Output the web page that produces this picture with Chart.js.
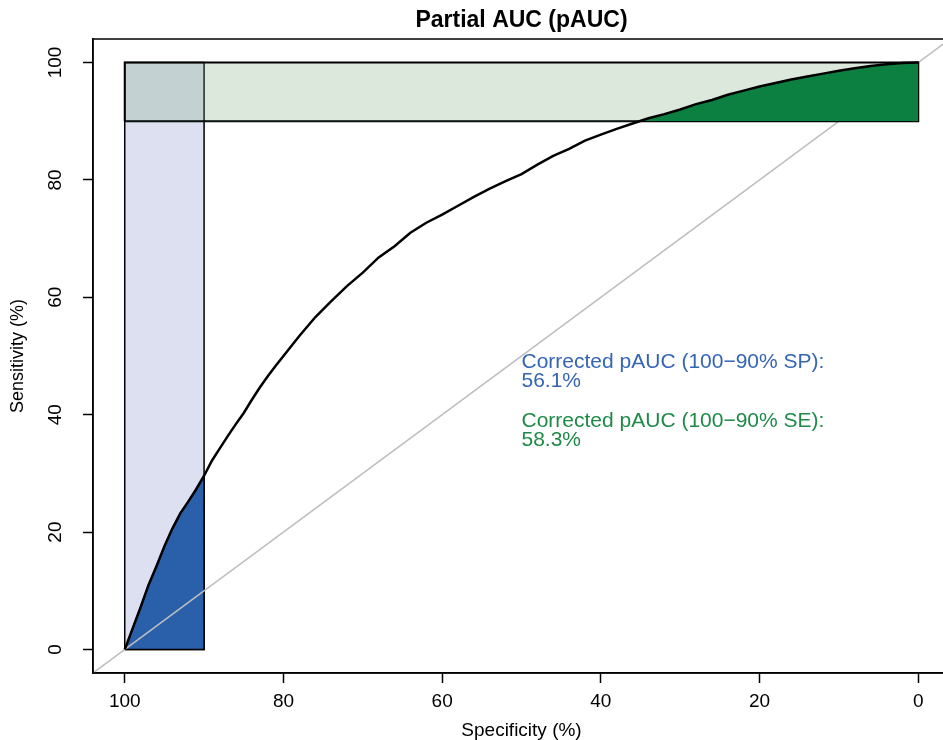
<!DOCTYPE html>
<html>
<head>
<meta charset="utf-8">
<script src="https://cdn.jsdelivr.net/npm/chart.js@4/dist/chart.umd.min.js"></script>
<style>
html,body{margin:0;padding:0;overflow:hidden;background:#fff}
#wrap{width:950px;height:740px}
canvas{display:block}
</style>
</head>
<body>
<div id="wrap"><canvas id="c" width="950" height="740"></canvas></div>
<script>
// ---- data ----
const specificity = [100, 99.5, 99, 98, 97, 96, 95, 94, 93, 92, 91, 90, 89, 88, 87, 86, 85, 84, 83, 82, 81, 80,
  78, 76, 74, 72, 70, 68, 66, 64, 62, 60, 58, 56, 54, 52, 50, 48, 46, 44, 42, 40,
  38, 36, 34, 32, 30, 28, 26, 24, 22, 20, 18, 16, 14, 12, 10, 8, 6, 4, 2, 0];
const sensitivity = [0, 1.8, 3.6, 7.2, 11.0, 14.2, 17.6, 20.6, 23.2, 25.2, 27.3, 29.6, 32.2, 34.3, 36.4, 38.4, 40.3, 42.5, 44.6, 46.5, 48.3, 50.0,
  53.4, 56.6, 59.3, 61.9, 64.2, 66.8, 68.7, 71.0, 72.7, 74.1, 75.6, 77.1, 78.5, 79.8, 81.0, 82.6, 84.1, 85.3, 86.7, 87.7,
  88.7, 89.6, 90.5, 91.2, 92.0, 92.9, 93.6, 94.5, 95.2, 95.9, 96.5, 97.1, 97.6, 98.1, 98.6, 99.0, 99.4, 99.7, 99.9, 100];
const spRange = [100, 90];     // partial AUC specificity range
const seRange = [90, 100];     // partial AUC sensitivity range
const fullRange = [0, 100];
const axisRange = [-4, 104];
const tickValues = [0, 20, 40, 60, 80, 100];
const annotationLabels = ['Corrected pAUC (100\u221290% SP):', 'Corrected pAUC (100\u221290% SE):'];
const pAUCValues = [56.1, 58.3];

// ---- derived point lists ----
const curve = specificity.map((s, i) => ({x: s, y: sensitivity[i]}));
const bluePoly = curve.filter(p => p.x <= spRange[0] && p.x >= spRange[1])
  .concat([{x: spRange[1], y: fullRange[0]}, {x: spRange[0], y: fullRange[0]}]);
const blueRect = [
  {x: spRange[0], y: fullRange[0]}, {x: spRange[0], y: fullRange[1]},
  {x: spRange[1], y: fullRange[1]}, {x: spRange[1], y: fullRange[0]}, {x: spRange[0], y: fullRange[0]}];
const greenRect = [
  {x: fullRange[1], y: seRange[0]}, {x: fullRange[1], y: seRange[1]},
  {x: fullRange[0], y: seRange[1]}, {x: fullRange[0], y: seRange[0]}, {x: fullRange[1], y: seRange[0]}];
const diagonal = [{x: axisRange[1], y: axisRange[0]}, {x: axisRange[0], y: axisRange[1]}];

Chart.defaults.font.family = '"Liberation Sans", Arial, Helvetica, sans-serif';
Chart.defaults.color = '#000';

const base = {showLine: true, pointRadius: 0, pointHoverRadius: 0, tension: 0};

const boxPlugin = {
  id: 'box',
  afterDatasetsDraw(chart) {
    const {ctx, chartArea: a} = chart;
    ctx.save();
    ctx.strokeStyle = '#000';
    ctx.lineWidth = 1.5;
    ctx.strokeRect(a.left, a.top, a.right - a.left, a.bottom - a.top);
    ctx.restore();
  }
};

const textPlugin = {
  id: 'auctext',
  afterDatasetsDraw(chart) {
    const {ctx, scales} = chart;
    const blocks = [
      {color: '#3565B5', sens: 49.0},
      {color: '#1F8A48', sens: 38.9}
    ];
    ctx.save();
    ctx.font = '21px "Liberation Sans", Arial, sans-serif';
    ctx.textAlign = 'left';
    ctx.textBaseline = 'middle';
    blocks.forEach((b, i) => {
      const x = scales.x.getPixelForValue(50);
      const y = scales.y.getPixelForValue(b.sens);
      ctx.fillStyle = b.color;
      ctx.fillText(annotationLabels[i], x, y);
      ctx.fillText(pAUCValues[i].toFixed(1) + '%', x, y + 19.5);
    });
    ctx.restore();
  }
};

const setTicks = s => { s.ticks = tickValues.map(v => ({value: v})); };

new Chart(document.getElementById('c'), {
  type: 'scatter',
  data: {
    datasets: [
      {...base, label: 'ROC', data: curve, borderColor: '#000', borderWidth: 2.5,
        fill: {target: {value: seRange[0]}, above: '#0C8040', below: 'rgba(0,0,0,0)'}, order: 1},
      {...base, label: 'SE range', data: greenRect, borderColor: '#000', borderWidth: 2,
        backgroundColor: 'rgba(123,165,123,0.257)', fill: 'shape', order: 2},
      {...base, label: 'Chance', data: diagonal, borderColor: '#BEBEBE', borderWidth: 1.5, fill: false, order: 3},
      {...base, label: 'SP pAUC', data: bluePoly, borderColor: '#000', borderWidth: 1.5,
        backgroundColor: '#2A5FAA', fill: 'shape', order: 4},
      {...base, label: 'SP range', data: blueRect, borderColor: '#000', borderWidth: 1.5,
        backgroundColor: '#DCE0F0', fill: 'shape', order: 5}
    ]
  },
  options: {
    responsive: false,
    animation: false,
    devicePixelRatio: 1,
    events: [],
    layout: {padding: 0},
    plugins: {
      legend: {display: false},
      tooltip: {enabled: false},
      title: {
        display: true, text: 'Partial AUC (pAUC)', fullSize: false, color: '#000',
        font: {size: 23, weight: 'bold'}, padding: {top: 7, bottom: 4.4}
      }
    },
    scales: {
      x: {
        type: 'linear', position: 'bottom', reverse: true,
        min: axisRange[0], max: axisRange[1],
        afterBuildTicks: setTicks,
        afterFit: s => { s.height = 67; },
        ticks: {autoSkip: false, padding: 7, color: '#000', font: {size: 19}, minRotation: 0, maxRotation: 0},
        grid: {drawOnChartArea: false, drawTicks: true, tickLength: 10, tickColor: '#000', tickWidth: 1.5},
        border: {display: true, color: '#000', width: 1.5},
        title: {display: true, text: 'Specificity (%)', color: '#000', font: {size: 19, lineHeight: 1}, padding: {top: 0, bottom: 0}}
      },
      y: {
        type: 'linear', position: 'left',
        min: axisRange[0], max: axisRange[1],
        afterBuildTicks: setTicks,
        afterFit: s => { s.width = 93; },
        ticks: {autoSkip: false, padding: 11, color: '#000', font: {size: 19}, minRotation: 90, maxRotation: 90, crossAlign: 'center'},
        grid: {drawOnChartArea: false, drawTicks: true, tickLength: 10, tickColor: '#000', tickWidth: 1.5},
        border: {display: true, color: '#000', width: 1.5},
        title: {display: true, text: 'Sensitivity (%)', color: '#000', font: {size: 18, lineHeight: 1}, padding: {top: 9, bottom: 0}}
      }
    }
  },
  plugins: [boxPlugin, textPlugin]
});
</script>
</body>
</html>
